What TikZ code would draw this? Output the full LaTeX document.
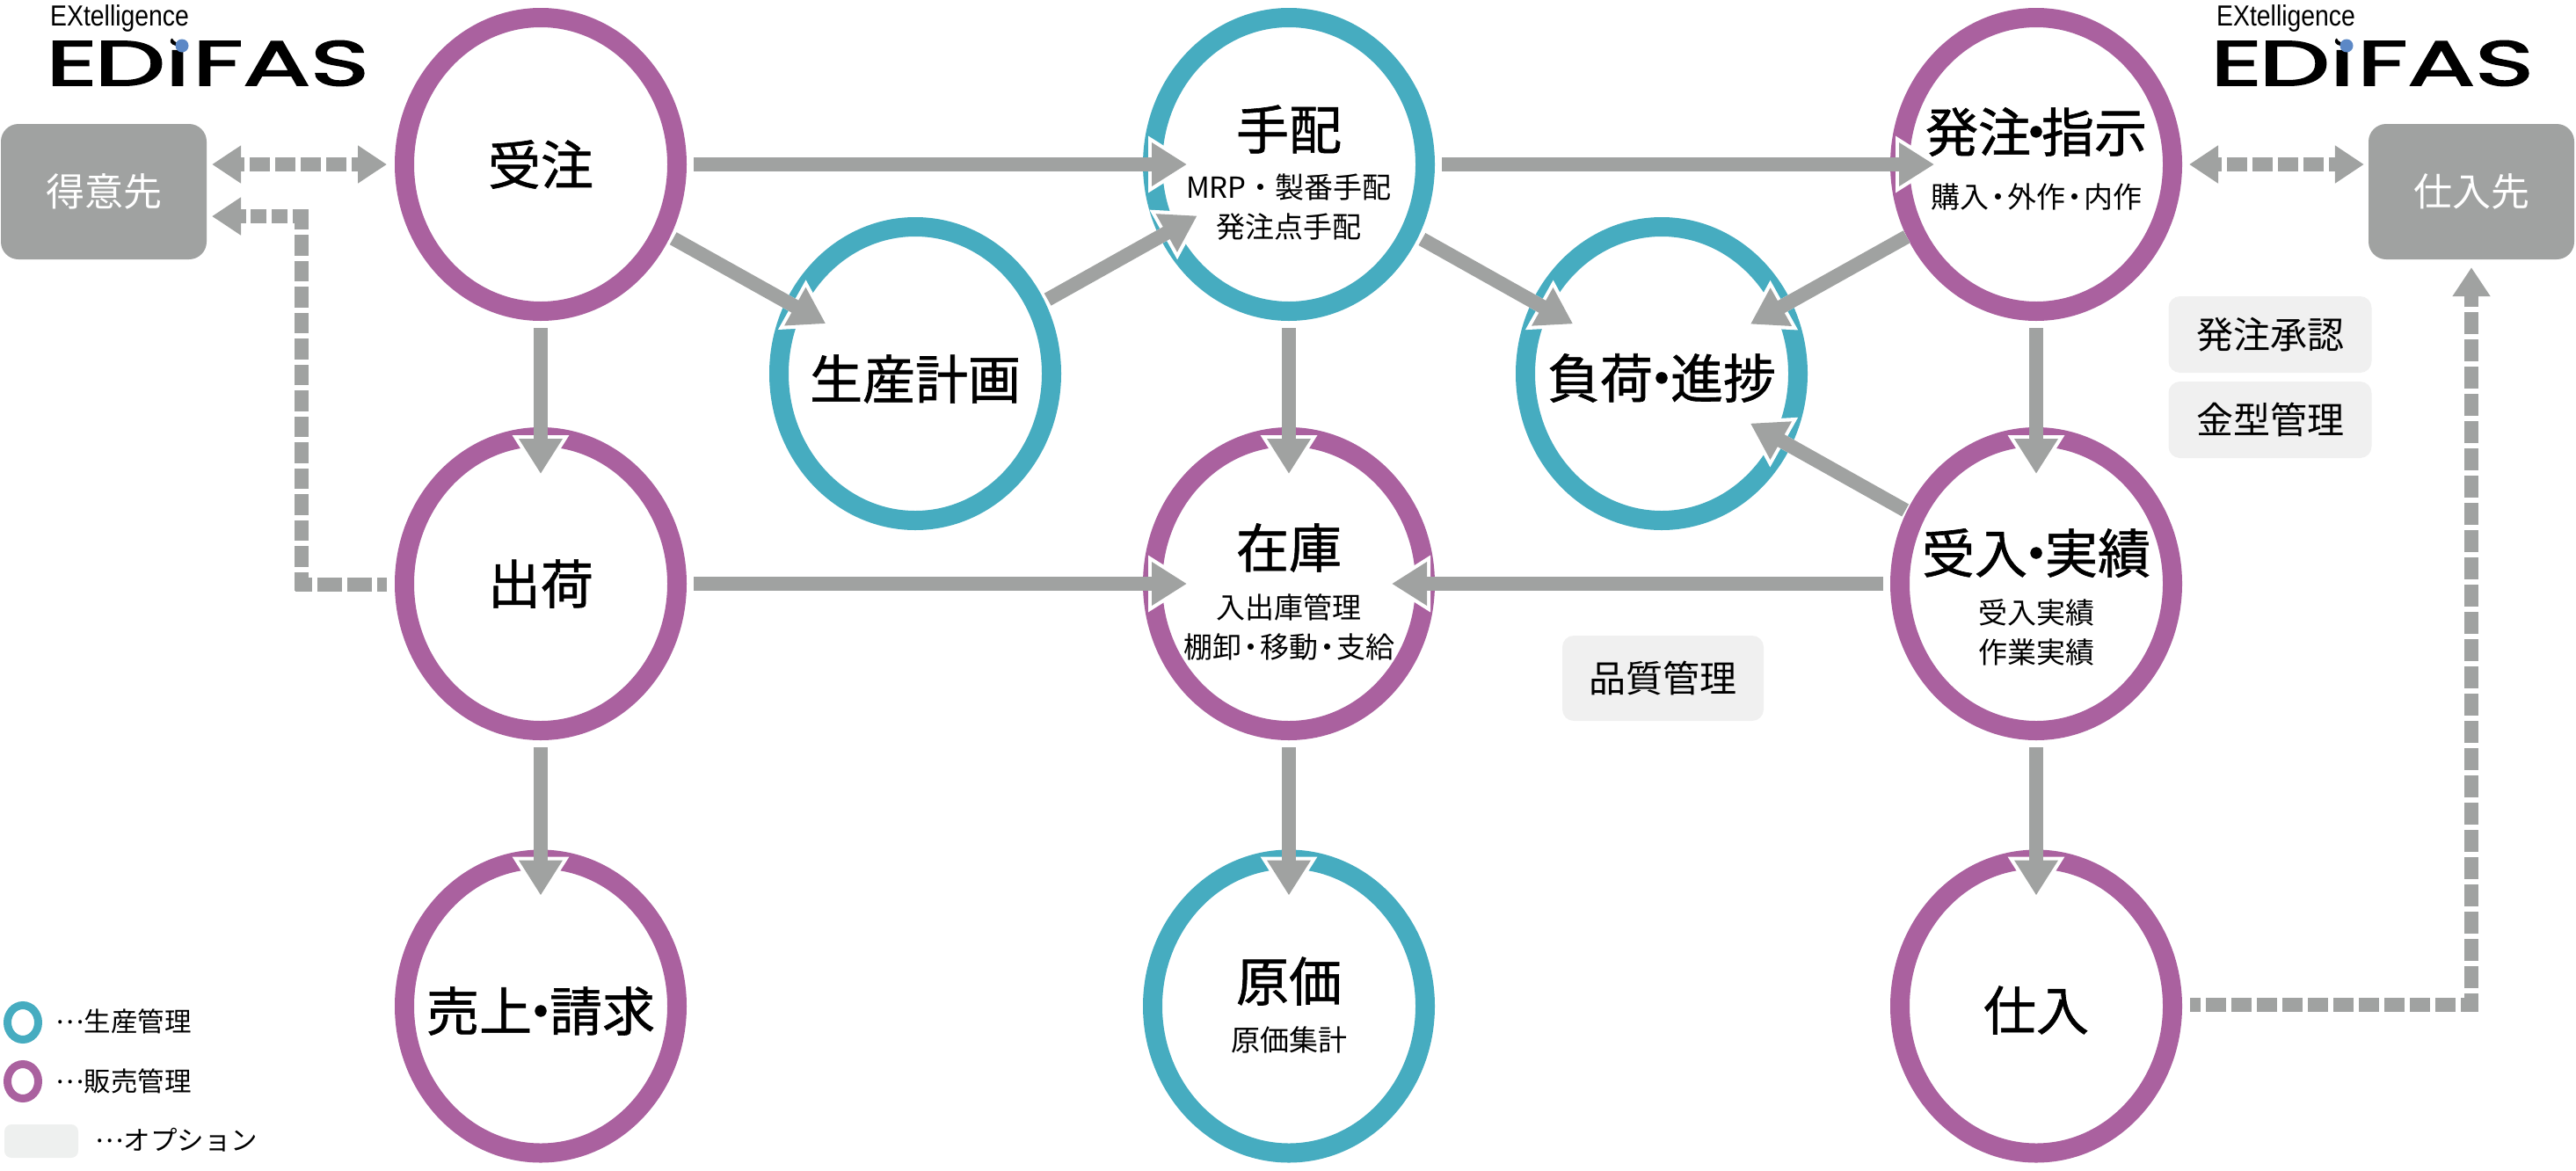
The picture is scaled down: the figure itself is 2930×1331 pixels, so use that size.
\documentclass[tikz,border=0pt]{standalone}
\usepackage{fontspec}
\setmainfont{Noto Sans CJK JP}
\newfontfamily\headfont[FakeBold=1]{Noto Sans CJK JP}
\newfontfamily\logofont[FakeBold=2.2]{Poppins}
\newfontfamily\exfont{Liberation Sans}
\usetikzlibrary{arrows.meta,shapes.geometric}
\definecolor{purplering}{HTML}{AA619F}
\definecolor{tealring}{HTML}{46ACC0}
\definecolor{arrowgray}{HTML}{A0A2A1}
\definecolor{optgray}{HTML}{F0F0F0}
\definecolor{legendgray}{HTML}{EEF0EF}
\definecolor{logoblue}{HTML}{5C88C6}
\tikzset{
  ring/.style={ellipse,draw,line width=22pt,fill=white,inner sep=0pt,minimum width=310pt,minimum height=334pt},
  sales/.style={ring,draw=purplering},
  prod/.style={ring,draw=tealring},
  maintext/.style={font=\headfont\fontsize{60}{66}\selectfont,inner sep=0pt,text=black},
  subtext/.style={font=\fontsize{33}{45}\selectfont,inner sep=0pt,align=center,text=black},
  partner/.style={rectangle,rounded corners=20pt,fill=arrowgray,text=white,font=\fontsize{44}{50}\selectfont,minimum width=234pt,minimum height=154pt,inner sep=0pt},
  option/.style={rectangle,rounded corners=13pt,fill=optgray,text=black,font=\fontsize{42}{48}\selectfont,minimum width=231pt,minimum height=87pt,inner sep=0pt},
  halo/.style={draw=white,line width=16pt,-{Triangle[length=52pt,width=61pt]}},
  flow/.style={draw=arrowgray,line width=16pt,-{Triangle[length=40pt,width=47pt]}},
  dashflow/.style={draw=arrowgray,line width=16pt},
  smallhead/.style={-{Triangle[length=33pt,width=41pt]}},
  bothhead/.style={{Triangle[length=33pt,width=41pt]}-{Triangle[length=33pt,width=41pt]}},
  legendtext/.style={font=\fontsize{30.5}{34}\selectfont,inner sep=0pt,anchor=west,text=black},
  extext/.style={font=\exfont\fontsize{33}{36}\selectfont,inner sep=0pt,anchor=west,xscale=.86,text=black},
  edifas/.style={font=\logofont\fontsize{72}{72}\selectfont,inner sep=0pt,anchor=west,xscale=1.58,text=black},
  logodot/.style={circle,fill=logoblue,inner sep=0pt,minimum size=15pt},
  logocover/.style={circle,fill=white,inner sep=0pt,minimum size=26pt},
}
% connector with a white halo round its head: penetration, start gap, from, to
\newcommand{\flowarrow}[4]{%
  \draw[halo,shorten <=#2pt,shorten >={\dimexpr-#1pt-8pt\relax}] (#3) -- (#4);
  \draw[flow,shorten <=#2pt,shorten >=-#1pt] (#3) -- (#4);}
\newcommand{\ellip}{\raisebox{9pt}{…}}
\newcommand{\edifasword}{E\kern-2pt Di\kern2pt FAS}
\begin{document}
\begin{tikzpicture}[x=1pt,y=-1pt]
\useasboundingbox (0,0) rectangle (2930,1331);
% rings
\node[sales] (juchu) at (615,187) {};
\node[sales] (shuka) at (615,664) {};
\node[sales] (uriage) at (615,1144.5) {};
\node[prod] (tehai) at (1466,187) {};
\node[sales] (zaiko) at (1466,664) {};
\node[prod] (genka) at (1466,1144.5) {};
\node[sales] (hatchu) at (2316,187) {};
\node[sales] (ukeire) at (2316,664) {};
\node[sales] (shiire) at (2316,1144.5) {};
\node[prod] (seisan) at (1041,425) {};
\node[prod] (fuka) at (1890,425) {};
% partners and options
\node[partner] (tokui) at (118,218) {得意先};
\node[partner] (shiiresaki) at (2811,218) {仕入先};
\node[option] (shonin) at (2582,380.5) {発注承認};
\node[option] (kanagata) at (2582,477.5) {金型管理};
\node[option,minimum width=229pt,minimum height=97pt] (hinshitsu) at (1891.5,771.5) {品質管理};
% connectors
\flowarrow{50}{8}{juchu}{tehai}
\flowarrow{50}{8}{tehai}{hatchu}
\flowarrow{53}{8}{juchu}{shuka}
\flowarrow{53}{8}{tehai}{zaiko}
\flowarrow{53}{8}{hatchu}{ukeire}
\flowarrow{52}{8}{shuka}{uriage}
\flowarrow{52}{8}{zaiko}{genka}
\flowarrow{52}{8}{ukeire}{shiire}
\flowarrow{50}{8}{shuka}{zaiko}
\flowarrow{49}{8}{ukeire}{zaiko}
\flowarrow{52}{4}{juchu}{seisan}
\flowarrow{49}{4}{seisan}{tehai}
\flowarrow{53}{5}{tehai}{fuka}
\flowarrow{53}{0}{hatchu}{fuka}
\flowarrow{53}{2}{ukeire}{fuka}
% dashed connectors
\draw[dashflow,bothhead,dash pattern=on 23pt off 6pt,dash phase=17pt,shorten <=6pt,shorten >=9pt] (tokui.east|-juchu) -- (juchu.west);
\draw[dashflow,bothhead,dash pattern=on 23pt off 6pt,dash phase=17pt,shorten <=8pt,shorten >=5pt] (hatchu.east) -- (shiiresaki.west|-hatchu);
\coordinate (tokuiIn) at (235,246);
\coordinate (elbowAh) at (336,664);
\coordinate (elbowAv) at (343,671.5);
\coordinate (elbowBv) at (343,238);
\coordinate (elbowBh) at (351,246);
\draw[dashflow,dash pattern=on 28pt off 6pt,dash phase=17pt,shorten <=9pt] ([yshift=-1pt]shuka.west) -- ([yshift=-1pt]elbowAh);
\draw[dashflow,dash pattern=on 23.5pt off 6pt,dash phase=2.5pt] (elbowAv) -- (elbowBv);
\draw[dashflow,smallhead,dash pattern=on 18.5pt off 5.3pt,shorten >=6pt] (elbowBh) -- (tokuiIn);
\coordinate (shiireOut) at (2491,1143);
\coordinate (elbowCh) at (2819,1143);
\coordinate (elbowCv) at (2811,1151);
\draw[dashflow,dash pattern=on 23pt off 6pt,dash phase=11pt] (shiireOut) -- (elbowCh);
\draw[dashflow,smallhead,dash pattern=on 25pt off 6pt,dash phase=4pt,shorten >=9pt] (elbowCv) -- (shiiresaki.south);
% ring labels
\node[maintext] (t1) at (615,187) {受注};
\node[maintext] (t2) at (615,664) {出荷};
\node[maintext] (t3) at (615,1150) {売上\kern-20pt・\kern-20pt請求};
\node[maintext] (t4) at (1466,147) {手配};
\node[subtext] (s4) at (1466,236) {MRP・製番手配\\発注点手配};
\node[maintext] (t5) at (2316,150) {発注\kern-24pt・\kern-24pt指示};
\node[subtext] (s5) at (2316,224) {購入\kern-6pt・\kern-6pt外作\kern-6pt・\kern-6pt内作};
\node[maintext] (t6) at (1041,431) {生産計画};
\node[maintext] (t7) at (1890,430) {負荷\kern-20pt・\kern-20pt進捗};
\node[maintext] (t8) at (1466,623) {在庫};
\node[subtext] (s8) at (1466,713.5) {入出庫管理\\棚卸\kern-6pt・\kern-6pt移動\kern-6pt・\kern-6pt支給};
\node[maintext] (t9) at (2316,629) {受入\kern-20pt・\kern-20pt実績};
\node[subtext] (s9) at (2316,719.5) {受入実績\\作業実績};
\node[maintext] (t10) at (1466,1116) {原価};
\node[subtext] (s10) at (1466,1183) {原価集計};
\node[maintext] (t11) at (2316,1149) {仕入};
% logos
\node[edifas] (ed1) at (52,70) {\edifasword};
\node[logocover] (cov1) at (207,37) {};
\node[logodot] (dot1) at (207,52) {};
\node[extext] (ex1) at (57,21) {EXtelligence};
\node[edifas] (ed2) at (2514,70) {\edifasword};
\node[logocover] (cov2) at (2669,37) {};
\node[logodot] (dot2) at (2669,52) {};
\node[extext] (ex2) at (2521,21) {EXtelligence};
% legend
\node[ellipse,draw=tealring,line width=9pt,inner sep=0pt,minimum width=35pt,minimum height=39pt] (lg1) at (26,1163) {};
\node[ellipse,draw=purplering,line width=9pt,inner sep=0pt,minimum width=35pt,minimum height=39pt] (lg2) at (26,1230) {};
\node[rectangle,rounded corners=8pt,fill=legendgray,minimum width=84pt,minimum height=38pt,inner sep=0pt] (lg3) at (47,1298) {};
\node[legendtext] (lt1) at (63,1162) {\ellip 生産管理};
\node[legendtext] (lt2) at (63,1230) {\ellip 販売管理};
\node[legendtext] (lt3) at (108,1297) {\ellip オプション};
\end{tikzpicture}
\end{document}
